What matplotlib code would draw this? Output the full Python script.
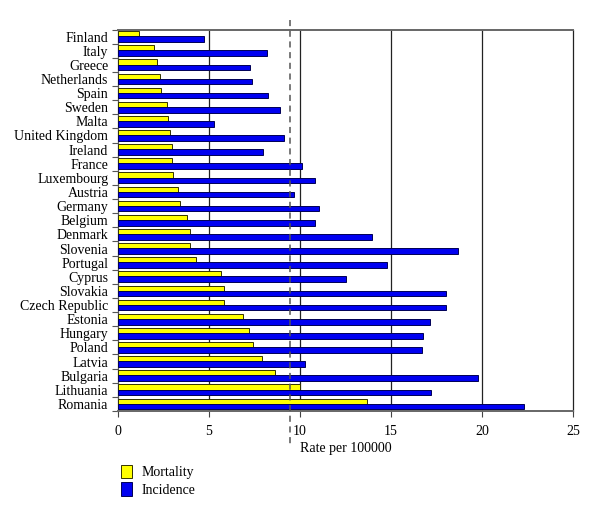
import matplotlib
matplotlib.use("Agg")
import matplotlib.pyplot as plt
import numpy as np
from matplotlib.patches import Patch
import matplotlib.transforms as mtransforms

countries = ["Finland", "Italy", "Greece", "Netherlands", "Spain", "Sweden", "Malta",
             "United Kingdom", "Ireland", "France", "Luxembourg", "Austria", "Germany",
             "Belgium", "Denmark", "Slovenia", "Portugal", "Cyprus", "Slovakia",
             "Czech Republic", "Estonia", "Hungary", "Poland", "Latvia", "Bulgaria",
             "Lithuania", "Romania"]
mortality = [1.17, 2.0, 2.14, 2.33, 2.38, 2.67, 2.77, 2.88, 2.99, 2.99, 3.04, 3.31, 3.41,
             3.8, 3.95, 3.97, 4.28, 5.64, 5.82, 5.82, 6.88, 7.21, 7.43, 7.9, 8.62,
             10.0, 13.7]
incidence = [4.74, 8.19, 7.25, 7.34, 8.22, 8.9, 5.29, 9.14, 7.97, 10.11, 10.82, 9.67, 11.04,
             10.82, 13.98, 18.66, 14.78, 12.53, 18.0, 18.04, 17.14, 16.74, 16.68, 10.26,
             19.76, 17.18, 22.3]
reference_line = 9.45
xticks = [0, 5, 10, 15, 20, 25]
xlabel = "Rate per 100000"
legend_labels = ["Mortality", "Incidence"]

plt.rcParams['font.family'] = ['Liberation Serif', 'DejaVu Serif']

fig = plt.figure(figsize=(6.0, 5.16), dpi=100)
ax = fig.add_axes([118/600, 1-411/516, (573-118)/600, (411-29.5)/516])

n = len(countries)
y = np.arange(n)
h = 0.36
ax.barh(y - h/2 - 0.02, mortality, height=h, color='#FFFF00', edgecolor='#333300',
        linewidth=0.7, zorder=3)
ax.barh(y + h/2, incidence, height=h + 0.04, color='#0000F0', edgecolor='#000055',
        linewidth=0.7, zorder=3)

ax.set_ylim(n - 0.5, -0.5)
ax.set_xlim(0, 25)

ax.set_yticks(np.arange(n + 1) - 0.5)
ax.set_yticklabels([])
ax.set_yticks(y, minor=True)
ax.set_yticklabels(countries, minor=True, fontsize=10)
ax.tick_params(axis='y', which='major', length=4, width=0.8, color='#555555')
ax.tick_params(axis='y', which='minor', length=0, pad=7)

ax.set_xticks(xticks)
ax.set_xticklabels([str(t) for t in xticks], fontsize=10)
ax.tick_params(axis='x', length=4, width=0.8, color='#444444', pad=6)
ax.set_xlabel(xlabel, fontsize=10, labelpad=3)

for xv in [5, 10, 15, 20]:
    ax.axvline(xv, color='#222222', linewidth=0.9, zorder=1)

for side in ['top', 'bottom']:
    ax.spines[side].set_color('#666666')
    ax.spines[side].set_linewidth(1.4)
ax.spines['left'].set_color('#555555')
ax.spines['left'].set_linewidth(0.9)
ax.spines['right'].set_color('#222222')
ax.spines['right'].set_linewidth(0.9)

trans = mtransforms.blended_transform_factory(ax.transData, ax.transAxes)
ax.plot([reference_line, reference_line], [1.025, -0.088], transform=trans,
        color='#555555', linestyle=(0, (4, 3)), linewidth=1.1, clip_on=False, zorder=5)

handles = [Patch(facecolor='#FFFF00', edgecolor='#333300', linewidth=0.7),
           Patch(facecolor='#0000F0', edgecolor='#000055', linewidth=0.7)]
leg = fig.legend(handles, legend_labels, loc='upper left',
                 bbox_to_anchor=(0.18, 1 - 452/516), bbox_transform=fig.transFigure,
                 frameon=False, fontsize=10, handlelength=0.8, handleheight=1.1,
                 handletextpad=0.7, labelspacing=0.25)

fig.savefig("out.png", dpi=100)
